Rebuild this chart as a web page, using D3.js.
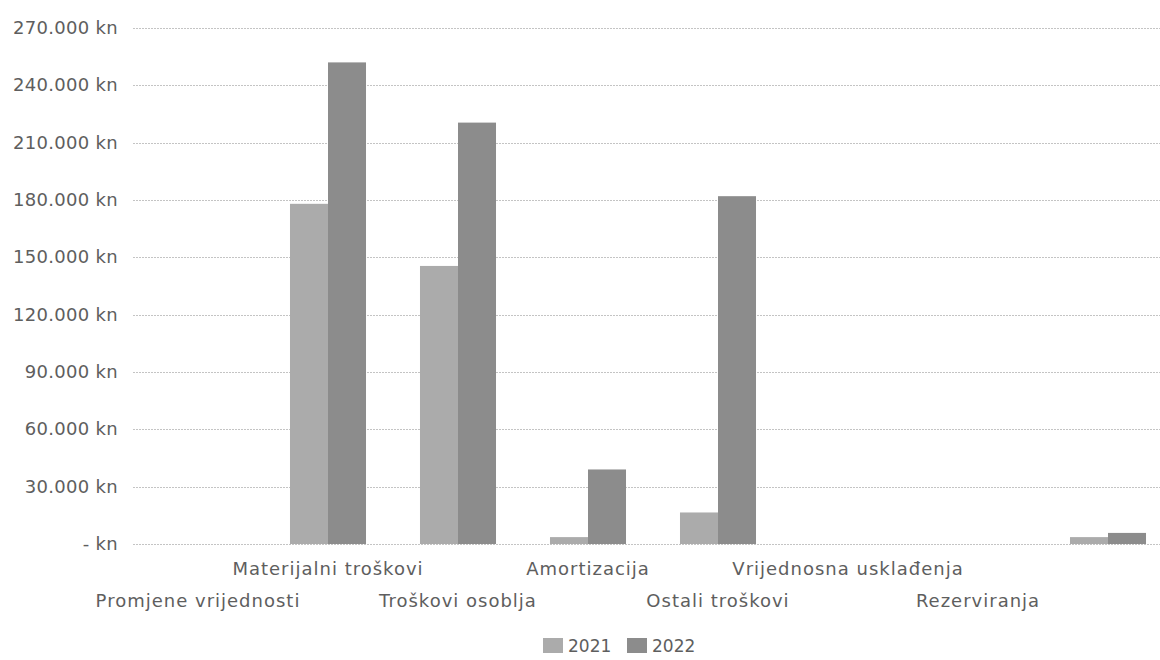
<!DOCTYPE html>
<html>
<head>
<meta charset="utf-8">
<script src="https://cdn.jsdelivr.net/npm/d3@7"></script>
<style>
  html, body { margin: 0; padding: 0; background: #fff; }
  svg { display: block; }
  text { font-family: "DejaVu Sans", Verdana, sans-serif; fill: #5e5e5e; }
</style>
</head>
<body>
<svg id="chart" width="1160" height="660"></svg>
<script>
const categories = ["Promjene vrijednosti", "Materijalni troškovi", "Troškovi osoblja", "Amortizacija",
                    "Ostali troškovi", "Vrijednosna usklađenja", "Rezerviranja", ""];
const years = ["2021", "2022"];
const values2021 = [0, 178000, 145500, 3600, 16500, 0, 0, 3600];
const values2022 = [0, 252000, 220500, 39000, 182000, 0, 0, 5800];
const yTicks = [0, 30000, 60000, 90000, 120000, 150000, 180000, 210000, 240000, 270000];
const colors = ["#ababab", "#8c8c8c"];

const svg = d3.select("#chart");
const plotTop = 28, plotBase = 544, plotLeft = 133, plotRight = 1173;

const y = d3.scaleLinear().domain([0, 270000]).range([plotBase, plotTop]);
const x0 = d3.scaleBand().domain(d3.range(categories.length)).range([plotLeft, plotRight]).padding(0);
const x1 = d3.scaleBand().domain(years).range([0, x0.bandwidth()]).paddingInner(0).paddingOuter(0.71);

const fmt = v => v === 0 ? "- kn" : d3.format(",")(v).replace(/,/g, ".") + " kn";

// gridlines
svg.append("g").selectAll("line").data(yTicks).join("line")
  .attr("x1", plotLeft).attr("x2", 1160)
  .attr("y1", d => Math.round(y(d)) + 0.5).attr("y2", d => Math.round(y(d)) + 0.5)
  .attr("stroke", "#c4c4c4").attr("stroke-width", 1).attr("stroke-dasharray", "2,1");

// y labels
svg.append("g").selectAll("text").data(yTicks).join("text")
  .attr("x", 118).attr("y", d => y(d) + 6)
  .attr("text-anchor", "end").attr("font-size", 18)
  .attr("letter-spacing", 0.3)
  .text(fmt);

// bars
const series = [values2021, values2022];
const g = svg.append("g");
years.forEach((yr, si) => {
  g.selectAll("rect.s" + si).data(series[si]).join("rect")
    .attr("class", "s" + si)
    .attr("x", (d, i) => x0(i) + x1(yr))
    .attr("width", x1.bandwidth())
    .attr("y", d => y(d))
    .attr("height", d => plotBase - y(d))
    .attr("fill", colors[si]);
});

// category labels (staggered)
svg.append("g").selectAll("text").data(categories).join("text")
  .attr("x", (d, i) => x0(i) + x0.bandwidth() / 2)
  .attr("y", (d, i) => i % 2 === 1 ? 575 : 607)
  .attr("text-anchor", "middle").attr("font-size", 18)
  .attr("letter-spacing", 1.0)
  .text(d => d);

// legend
const lg = svg.append("g").attr("transform", "translate(543,0)");
years.forEach((yr, i) => {
  const gx = i * 84;
  lg.append("rect").attr("x", gx).attr("y", 638).attr("width", 20).attr("height", 15).attr("fill", colors[i]);
  lg.append("text").attr("x", gx + 25).attr("y", 652).attr("font-size", 17).text(yr);
});
</script>
</body>
</html>
